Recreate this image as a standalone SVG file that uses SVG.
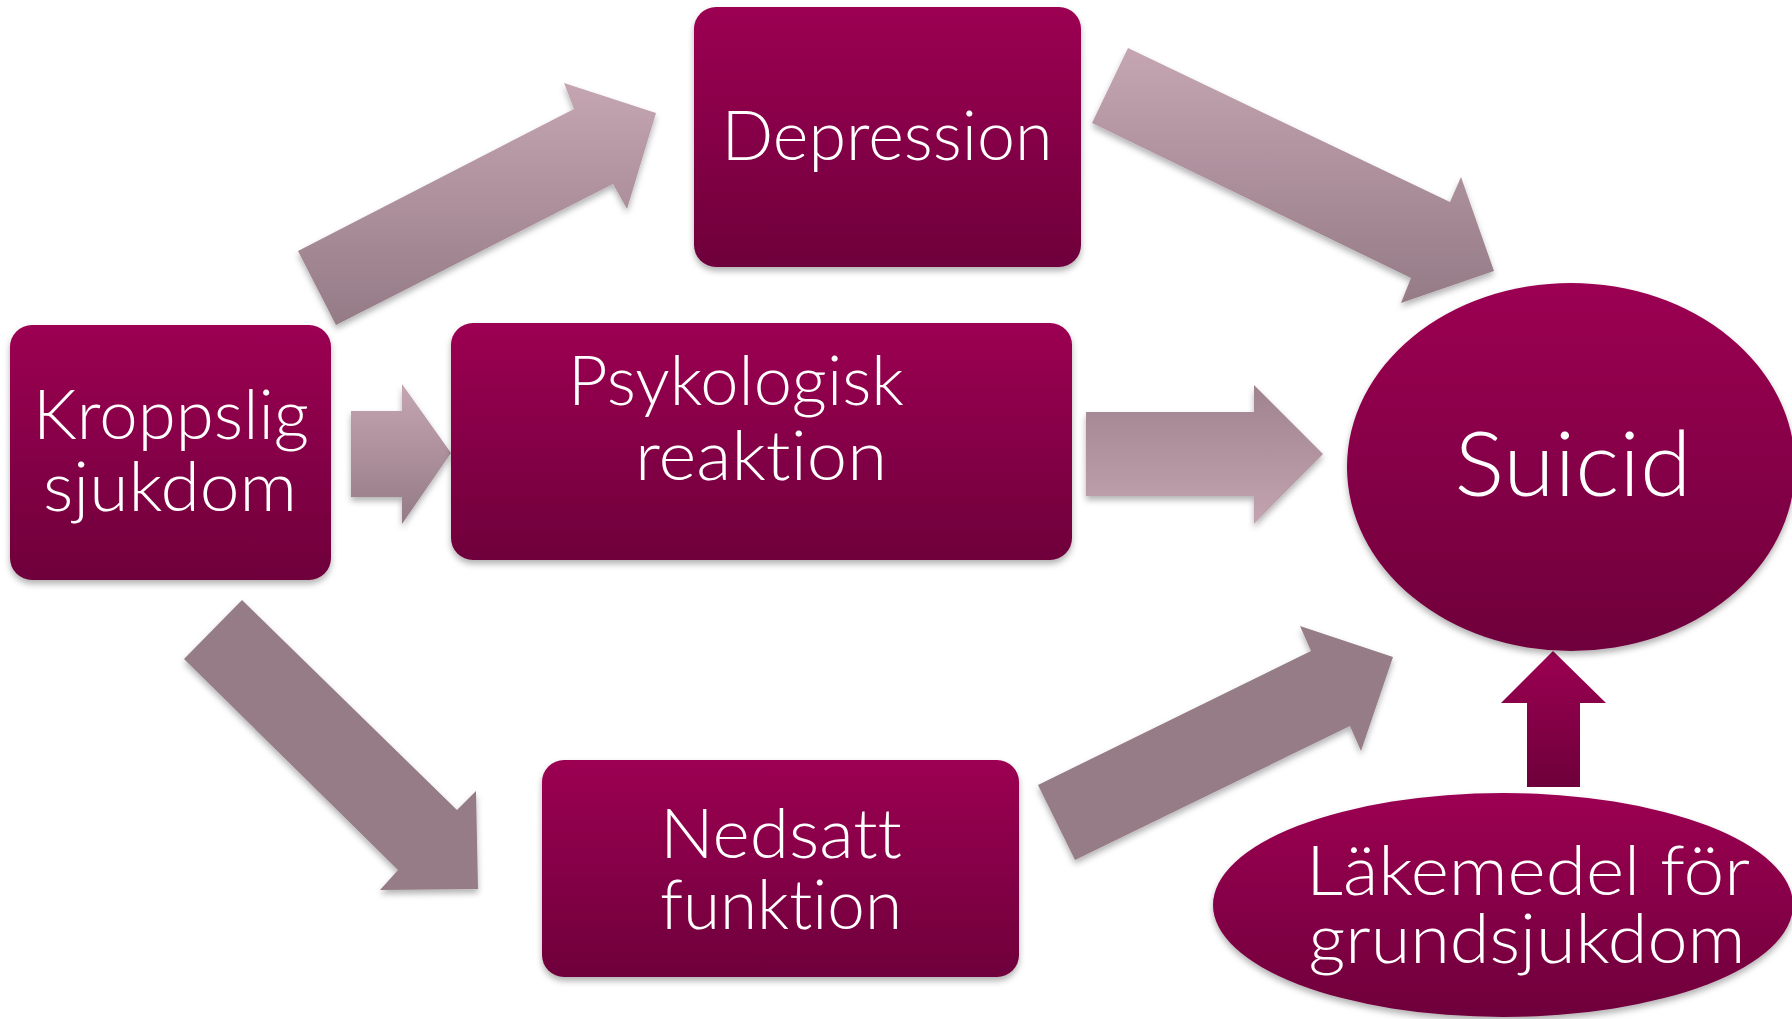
<svg xmlns="http://www.w3.org/2000/svg" width="1792" height="1019" viewBox="0 0 1792 1019">
<defs>
<linearGradient id="gBox" x1="0" y1="0" x2="0" y2="1"><stop offset="0" stop-color="#9C0052"/><stop offset="1" stop-color="#6E003B"/></linearGradient>
<linearGradient id="gA" x1="0" y1="0" x2="0" y2="1"><stop offset="0" stop-color="#C5A5B2"/><stop offset="1" stop-color="#947B86"/></linearGradient>
<linearGradient id="gD" x1="0" y1="0" x2="0" y2="1"><stop offset="0" stop-color="#9F838E"/><stop offset="1" stop-color="#C3A4B0"/></linearGradient>
<filter id="sh" x="-10%" y="-10%" width="120%" height="125%"><feDropShadow dx="0" dy="4" stdDeviation="3" flood-color="#000" flood-opacity="0.3"/></filter>
<style>
.box{fill:url(#gBox);filter:url(#sh)}
.arr{filter:url(#sh)}
.t{font-family:Lato,"Open Sans","Liberation Sans",sans-serif;font-weight:300;fill:#fff;text-anchor:middle;font-size:68px;font-variant-ligatures:none}
</style>
</defs>
<rect width="1792" height="1019" fill="#fff"/>
<g id="connectors">
<polygon class="arr" fill="url(#gA)" points="298,251 574,109 564,83 656,113 627,209 613,184 336,325"/>
<polygon class="arr" fill="url(#gA)" points="1128,48 1450,202 1461,177 1494,271 1401,303 1411,278 1092,123"/>
<polygon class="arr" fill="url(#gA)" points="351,411 402,411 402,384 451,453 402,524 402,497 351,497"/>
<polygon class="arr" fill="url(#gD)" points="1086,412 1254,412 1254,385 1323,454 1254,524 1254,496 1086,496"/>
<polygon class="arr" fill="#957C86" points="242,600 457,810 476,791 478,889 380,890 398,870 184,659"/>
<polygon class="arr" fill="#967C86" points="1038,785 1311,651 1300,626 1393,657 1361,751 1350,726 1075,860"/>
<polygon fill="url(#gBox)" points="1553,651 1606,703 1580,703 1580,787 1527,787 1527,703 1501,703"/>
</g>
<g id="node-depression">
<rect class="box" x="694" y="7" width="387" height="260" rx="22"/>
<text class="t" x="887" y="160" textLength="331" lengthAdjust="spacingAndGlyphs">Depression</text>
</g>
<g id="node-kroppslig">
<rect class="box" x="10" y="325" width="321" height="255" rx="22"/>
<text class="t"><tspan x="171" y="439" textLength="276" lengthAdjust="spacingAndGlyphs">Kroppslig</tspan><tspan x="170" y="511" textLength="254" lengthAdjust="spacingAndGlyphs">sjukdom</tspan></text>
</g>
<g id="node-psykologisk">
<rect class="box" x="451" y="323" width="621" height="237" rx="22"/>
<text class="t"><tspan x="736" y="405" textLength="336" lengthAdjust="spacingAndGlyphs">Psykologisk</tspan><tspan x="761" y="480" textLength="252" lengthAdjust="spacingAndGlyphs">reaktion</tspan></text>
</g>
<g id="node-nedsatt">
<rect class="box" x="542" y="760" width="477" height="217" rx="22"/>
<text class="t"><tspan x="781" y="858" textLength="242" lengthAdjust="spacingAndGlyphs">Nedsatt</tspan><tspan x="781" y="929" textLength="242" lengthAdjust="spacingAndGlyphs">funktion</tspan></text>
</g>
<g id="node-suicid">
<ellipse class="box" cx="1571" cy="467" rx="224" ry="184"/>
<text class="t" x="1573" y="496" style="font-size:90px" textLength="237" lengthAdjust="spacingAndGlyphs">Suicid</text>
</g>
<g id="node-lakemedel">
<ellipse class="box" cx="1503" cy="905" rx="290" ry="112"/>
<text class="t"><tspan x="1528" y="895" textLength="444" lengthAdjust="spacingAndGlyphs">Läkemedel för</tspan><tspan x="1527" y="963" textLength="437" lengthAdjust="spacingAndGlyphs">grundsjukdom</tspan></text>
</g>
</svg>
